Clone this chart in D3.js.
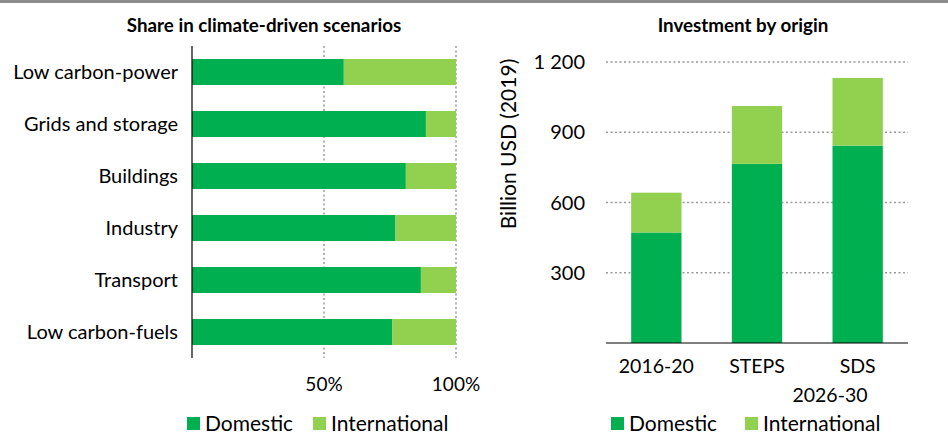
<!DOCTYPE html>
<html>
<head>
<meta charset="utf-8">
<script src="https://cdn.jsdelivr.net/npm/d3@7"></script>
<style>
  body { margin: 0; background: #fff; }
  svg text { font-family: Lato, "Noto Sans", sans-serif; fill: #000; }
</style>
</head>
<body>
<svg id="chart" width="948" height="436"></svg>
<script>
// left panel: share of investment by sector
const sectors = ['Low carbon-power', 'Grids and storage', 'Buildings', 'Industry', 'Transport', 'Low carbon-fuels'];
const domesticShare = [57.5, 88.6, 81, 77.1, 86.7, 75.8];
const shareTicks = [50, 100];

// right panel: investment by origin
const periods = ['2016-20', 'STEPS', 'SDS'];
const domesticInv = [472, 765, 843];
const internationalInv = [170, 247, 289];
const invTicks = [300, 600, 900, 1200];

const seriesNames = ['Domestic', 'International'];
const colors = { Domestic: '#00b050', International: '#92d050' };

const svg = d3.select('#chart');

svg.append('line')
    .attr('x1', 0).attr('x2', 948).attr('y1', 1.5).attr('y2', 1.5)
    .attr('stroke', '#8c8c8c').attr('stroke-width', 3);

// ---------- left chart ----------
const x = d3.scaleLinear().domain([0, 100]).range([192, 456]);
const y = d3.scaleBand().domain(sectors).range([46, 358]).paddingInner(0.5).paddingOuter(0.25);

svg.append('g').selectAll('line')
    .data(shareTicks)
    .enter().append('line')
    .attr('x1', d => x(d)).attr('x2', d => x(d))
    .attr('y1', 46).attr('y2', 358)
    .attr('stroke', '#9a9a9a').attr('stroke-width', 1.5)
    .attr('stroke-dasharray', '2,2.5');

const rows = sectors.map((s, i) => ({ sector: s, dom: domesticShare[i] }));

svg.append('g').selectAll('rect')
    .data(rows)
    .enter().append('rect')
    .attr('x', x(0))
    .attr('y', d => y(d.sector))
    .attr('width', d => x(d.dom) - x(0))
    .attr('height', y.bandwidth())
    .attr('fill', colors.Domestic);

svg.append('g').selectAll('rect')
    .data(rows)
    .enter().append('rect')
    .attr('x', d => x(d.dom))
    .attr('y', d => y(d.sector))
    .attr('width', d => x(100) - x(d.dom))
    .attr('height', y.bandwidth())
    .attr('fill', colors.International);

svg.append('line')
    .attr('x1', x(0)).attr('x2', x(0)).attr('y1', 46).attr('y2', 358)
    .attr('stroke', '#000').attr('stroke-width', 1.2);

svg.append('g').selectAll('text')
    .data(sectors)
    .enter().append('text')
    .attr('x', 178)
    .attr('y', d => y(d) + y.bandwidth() / 2)
    .attr('dy', '0.36em')
    .attr('text-anchor', 'end')
    .attr('font-size', 20)
    .text(d => d);

svg.append('g').selectAll('text')
    .data(shareTicks)
    .enter().append('text')
    .attr('x', d => x(d))
    .attr('y', 384)
    .attr('dy', '0.36em')
    .attr('text-anchor', 'middle')
    .attr('font-size', 19)
    .text(d => d + '%');

svg.append('text')
    .attr('x', 264).attr('y', 25).attr('dy', '0.36em')
    .attr('text-anchor', 'middle')
    .attr('font-size', 18.8).attr('font-weight', 'bold')
    .text('Share in climate-driven scenarios');

// ---------- right chart ----------
const xb = d3.scaleBand().domain(periods).range([606, 908]).paddingInner(0.5).paddingOuter(0.25);
const yv = d3.scaleLinear().domain([0, 1200]).range([343, 62]);

svg.append('g').selectAll('line')
    .data(invTicks)
    .enter().append('line')
    .attr('x1', 606).attr('x2', 908)
    .attr('y1', d => yv(d)).attr('y2', d => yv(d))
    .attr('stroke', '#9a9a9a').attr('stroke-width', 1.5)
    .attr('stroke-dasharray', '2,2.5');

const stacks = periods.map((p, i) => ({ period: p, Domestic: domesticInv[i], International: internationalInv[i] }));
const layers = d3.stack().keys(seriesNames)(stacks);

svg.append('g').selectAll('g')
    .data(layers)
    .enter().append('g')
    .attr('fill', d => colors[d.key])
    .selectAll('rect')
    .data(d => d)
    .enter().append('rect')
    .attr('x', d => xb(d.data.period))
    .attr('y', d => yv(d[1]))
    .attr('width', xb.bandwidth())
    .attr('height', d => yv(d[0]) - yv(d[1]));

svg.append('line')
    .attr('x1', 606).attr('x2', 908).attr('y1', yv(0)).attr('y2', yv(0))
    .attr('stroke', '#000').attr('stroke-width', 1.2);

svg.append('g').selectAll('text')
    .data(invTicks)
    .enter().append('text')
    .attr('x', 585)
    .attr('y', d => yv(d))
    .attr('dy', '0.36em')
    .attr('text-anchor', 'end')
    .attr('font-size', 20)
    .text(d => d3.format(',')(d).replace(',', ' '));

svg.append('g').selectAll('text')
    .data(periods)
    .enter().append('text')
    .attr('x', d => xb(d) + xb.bandwidth() / 2)
    .attr('y', 366)
    .attr('dy', '0.36em')
    .attr('text-anchor', 'middle')
    .attr('font-size', 19.5)
    .text(d => d);

svg.append('text')
    .attr('x', 830).attr('y', 395).attr('dy', '0.36em')
    .attr('text-anchor', 'middle')
    .attr('font-size', 19.5)
    .text('2026-30');

svg.append('text')
    .attr('transform', 'translate(508,144) rotate(-90)')
    .attr('dy', '0.36em')
    .attr('text-anchor', 'middle')
    .attr('font-size', 21)
    .text('Billion USD (2019)');

svg.append('text')
    .attr('x', 743).attr('y', 25).attr('dy', '0.36em')
    .attr('text-anchor', 'middle')
    .attr('font-size', 18.8).attr('font-weight', 'bold')
    .text('Investment by origin');

// ---------- legends ----------
function legend(x0, x1) {
  const g = svg.append('g');
  const pos = [x0, x1];
  seriesNames.forEach((name, i) => {
    g.append('rect')
        .attr('x', pos[i]).attr('y', 417)
        .attr('width', 13).attr('height', 13)
        .attr('fill', colors[name]);
    g.append('text')
        .attr('x', pos[i] + 18).attr('y', 423.5)
        .attr('dy', '0.36em')
        .attr('font-size', 21)
        .text(name);
  });
}
legend(187, 313);
legend(611, 745);
</script>
</body>
</html>
